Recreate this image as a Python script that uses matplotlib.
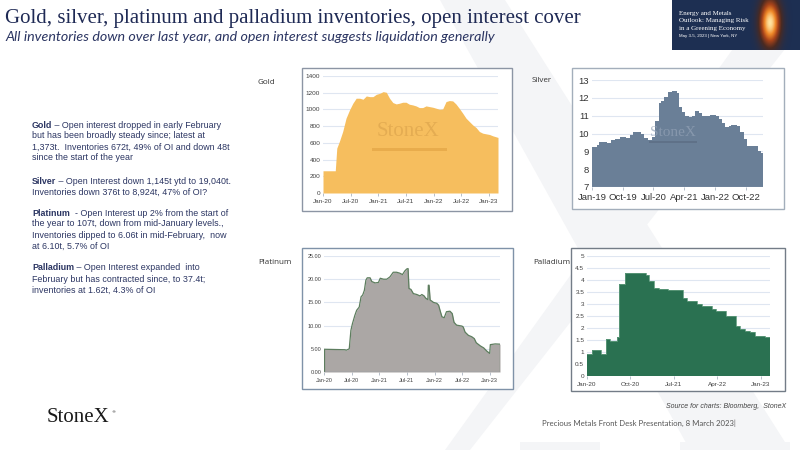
import matplotlib
matplotlib.use("Agg")
import matplotlib.pyplot as plt
import matplotlib.dates as mdates
from matplotlib.colors import LinearSegmentedColormap
from matplotlib.patches import Rectangle, Polygon
import numpy as np
import pandas as pd

W, H = 800, 450

# ── data ───────────────────────────────────────────────────────────────────
gold_dates = ["2020-01-01", "2020-03-22", "2020-04-01", "2020-04-18", "2020-05-10", "2020-06-01",
              "2020-06-24", "2020-07-16", "2020-08-07", "2020-08-30", "2020-09-21", "2020-10-13",
              "2020-11-04", "2020-11-26", "2020-12-18", "2021-01-10", "2021-02-01", "2021-02-22",
              "2021-03-15", "2021-04-06", "2021-04-28", "2021-05-19", "2021-06-10", "2021-07-02",
              "2021-07-24", "2021-08-15", "2021-09-06", "2021-09-28", "2021-10-20", "2021-11-11",
              "2021-12-03", "2021-12-26", "2022-01-17", "2022-02-08", "2022-03-01", "2022-03-23",
              "2022-04-14", "2022-05-06", "2022-05-27", "2022-06-18", "2022-07-11", "2022-08-02",
              "2022-08-24", "2022-09-15", "2022-10-07", "2022-10-29", "2022-11-20", "2022-12-12",
              "2023-01-04", "2023-01-26", "2023-03-01"]
gold_inv = [266, 266, 537, 617, 736, 895, 994, 1074, 1134, 1134, 1122, 1161, 1153, 1153, 1181,
            1193, 1213, 1205, 1134, 1082, 1066, 1074, 1086, 1086, 1062, 1054, 1042, 1022, 1022,
            1042, 1034, 1026, 1014, 1002, 1006, 1094, 1106, 1102, 1066, 1014, 955, 895, 855, 815,
            784, 736, 716, 708, 700, 684, 665]

silver_dates = ["2019-01-01", "2019-02-17", "2019-03-05", "2019-04-10", "2019-05-15", "2019-06-23",
                "2019-07-23", "2019-09-06", "2019-11-01", "2019-12-05", "2020-01-04", "2020-02-18",
                "2020-03-10", "2020-04-10", "2020-05-10", "2020-06-15", "2020-07-15", "2020-08-15",
                "2020-09-06", "2020-10-04", "2020-11-04", "2020-12-13", "2021-01-27", "2021-02-15",
                "2021-03-10", "2021-04-10", "2021-05-10", "2021-06-10", "2021-07-06", "2021-08-06",
                "2021-09-06", "2021-11-18", "2022-01-10", "2022-02-03", "2022-03-04", "2022-04-01",
                "2022-05-01", "2022-05-22", "2022-07-15", "2022-08-06", "2022-09-12", "2022-10-12",
                "2022-11-18", "2022-12-24", "2023-01-15", "2023-02-10", "2023-03-03"]
silver_inv = [9.24, 9.33, 9.50, 9.54, 9.46, 9.61, 9.69, 9.80, 9.74, 9.93, 10.06, 10.11, 9.98,
              9.74, 9.65, 9.83, 10.71, 11.70, 11.85, 12.07, 12.35, 12.39, 12.26, 11.51, 11.23,
              10.99, 10.91, 10.99, 11.27, 11.17, 10.99, 11.05, 10.99, 10.80, 10.58, 10.39, 10.43,
              10.49, 10.43, 10.11, 9.69, 9.31, 9.28, 9.31, 9.00, 8.92, 8.92]

plat_dates = ["2020-01-01", "2020-03-12", "2020-05-18", "2020-05-28", "2020-06-16", "2020-06-27",
              "2020-07-07", "2020-07-23", "2020-08-04", "2020-08-21", "2020-09-02", "2020-09-13",
              "2020-09-24", "2020-10-04", "2020-10-13", "2020-11-01", "2020-11-12", "2020-12-04",
              "2020-12-26", "2021-01-07", "2021-01-29", "2021-02-19", "2021-03-12", "2021-04-03",
              "2021-04-25", "2021-05-16", "2021-06-03", "2021-06-19", "2021-07-01", "2021-07-10",
              "2021-07-16", "2021-07-29", "2021-08-14", "2021-09-06", "2021-09-27", "2021-10-09",
              "2021-10-24", "2021-11-04", "2021-11-18", "2021-11-21", "2021-11-26", "2021-12-03",
              "2021-12-13", "2021-12-25", "2022-01-16", "2022-01-28", "2022-02-08", "2022-02-19",
              "2022-03-06", "2022-03-21", "2022-04-13", "2022-04-28", "2022-05-10", "2022-05-27",
              "2022-07-01", "2022-07-10", "2022-07-22", "2022-08-13", "2022-09-04", "2022-09-21",
              "2022-10-04", "2022-11-01", "2022-11-22", "2022-12-13", "2023-01-01", "2023-01-05",
              "2023-02-06", "2023-03-10"]
plat_inv = [4.9, 4.85, 4.8, 4.7, 5.0, 9.0, 10.4, 12.2, 13.3, 14.0, 16.2, 16.6, 17.6, 19.8, 20.3,
            20.3, 19.5, 19.2, 19.3, 20.2, 20.0, 20.0, 20.5, 21.5, 21.5, 21.3, 21.0, 21.8, 22.2,
            22.3, 18.0, 17.8, 16.9, 16.7, 16.4, 16.7, 16.4, 15.9, 15.6, 18.7, 18.7, 15.5, 15.3,
            15.0, 14.8, 14.4, 13.1, 11.9, 11.7, 13.0, 13.1, 12.6, 10.7, 10.1, 9.9, 9.7, 8.6, 7.9,
            7.6, 7.2, 6.3, 5.6, 5.2, 4.5, 4.0, 5.9, 6.05, 6.0]

pall_dates = ["2020-01-01", "2020-02-01", "2020-04-01", "2020-04-27", "2020-05-26", "2020-07-08",
              "2020-07-24", "2020-08-28", "2021-01-07", "2021-01-28", "2021-02-28", "2021-04-01",
              "2021-05-25", "2021-08-28", "2021-09-25", "2021-11-28", "2021-12-24", "2022-03-01",
              "2022-03-27", "2022-04-28", "2022-05-25", "2022-06-26", "2022-07-28", "2022-08-22",
              "2022-09-23", "2022-10-24", "2022-11-25", "2023-01-28", "2023-03-01"]
pall_inv = [0.90, 1.09, 0.92, 1.53, 1.45, 1.63, 3.84, 4.28, 4.21, 3.97, 3.68, 3.62, 3.57, 3.23,
            3.13, 2.98, 2.92, 2.80, 2.72, 2.69, 2.52, 2.49, 2.09, 1.95, 1.87, 1.82, 1.66, 1.62, 1.62]

gold_ticks = ["2020-01-01", "2020-07-01", "2021-01-01", "2021-07-01", "2022-01-01", "2022-07-01", "2023-01-01"]
silver_ticks = ["2019-01-01", "2019-10-01", "2020-07-01", "2021-04-01", "2022-01-01", "2022-10-01"]
pall_ticks = ["2020-01-01", "2020-10-01", "2021-07-01", "2022-04-01", "2023-01-01"]

notes = [
    ("Gold", " \u2013 Open interest dropped in early February",
     ["but has been broadly steady since; latest at",
      "1,373t.  Inventories 672t, 49% of OI and down 48t",
      "since the start of the year"], 125),
    ("Silver", " \u2013 Open Interest down 1,145t ytd to 19,040t.",
     ["Inventories down 376t to 8,924t, 47% of OI?"], 181),
    ("Platinum", "  - Open Interest up 2% from the start of",
     ["the year to 107t, down from mid-January levels.,",
      "Inventories dipped to 6.06t in mid-February,  now",
      "at 6.10t, 5.7% of OI"], 213),
    ("Palladium", " \u2013 Open Interest expanded  into",
     ["February but has contracted since, to 37.4t;",
      "inventories at 1.62t, 4.3% of OI"], 268),
]

NAVY = "#1f2a55"
TEXT = "#2b3562"
GRID = "#dfe6f1"


def fx(px):
    return px / W


def fy(py):
    return 1 - py / H


def panel_axes(left, top, right, bottom):
    return fig.add_axes([fx(left), fy(bottom), fx(right - left), (bottom - top) / H])


def frame(left, top, right, bottom, color):
    fig.patches.append(Rectangle((fx(left), fy(bottom)), fx(right - left), (bottom - top) / H,
                                 transform=fig.transFigure, fc="white", ec=color, lw=1.0,
                                 zorder=-1))


def style(ax, yticks, ylabels, ylim, xticks, xlim, fs, tc="#404040"):
    ax.set_facecolor("none")
    for s in ax.spines.values():
        s.set_visible(False)
    ax.set_ylim(*ylim)
    ax.set_yticks(yticks)
    ax.set_yticklabels(ylabels)
    ax.set_xlim(pd.Timestamp(xlim[0]), pd.Timestamp(xlim[1]))
    ax.set_xticks(pd.to_datetime(xticks))
    ax.xaxis.set_major_formatter(mdates.DateFormatter("%b-%y"))
    ax.grid(axis="y", color=GRID, lw=0.8)
    ax.set_axisbelow(True)
    ax.tick_params(axis="y", length=0, labelsize=fs, colors=tc, pad=2)
    ax.tick_params(axis="x", length=2, width=0.5, color="#9aa5b5", labelsize=fs, colors=tc, pad=2)
    for lab in ax.get_xticklabels() + ax.get_yticklabels():
        lab.set_fontfamily("Liberation Sans")


fig = plt.figure(figsize=(8, 4.5), dpi=100)
fig.patch.set_facecolor("white")

# faint background "X"
bg = "#f4f5f7"
for pts in ([(440, 0), (505, 0), (790, 450), (690, 450)],
            [(768, 0), (800, 0), (800, 30), (470, 450), (445, 450)],
            [(520, 442), (600, 442), (600, 450), (520, 450)],
            [(680, 442), (790, 442), (790, 450), (680, 450)]):
    fig.patches.append(Polygon([(fx(a), fy(b)) for a, b in pts], closed=True,
                               transform=fig.transFigure, fc=bg, ec="none", zorder=-2))

# title block
fig.text(fx(5), fy(18), "Gold, silver, platinum and palladium inventories, open interest cover",
         family="Liberation Serif", fontsize=15, color=NAVY, va="center")
fig.text(fx(5), fy(37), "All inventories down over last year, and open interest suggests liquidation generally",
         family="Lato", style="italic", fontsize=10.3, color=TEXT, va="center")

# conference badge
fig.patches.append(Rectangle((fx(672), fy(50)), fx(128), 50 / H, transform=fig.transFigure,
                             fc="#1d2f52", ec="none", zorder=2))
glow = fig.add_axes([fx(750), fy(50), fx(50), 50 / H])
yy, xx = np.mgrid[0:1:50j, 0:1:50j]
fire = LinearSegmentedColormap.from_list("fire", ["#1d2f52", "#4a2a22", "#a8441a", "#f08a2a", "#ffe3a0"])
glow.imshow(np.exp(-((xx - 0.4) ** 2 / 0.04 + (yy - 0.45) ** 2 / 0.2)), cmap=fire,
            aspect="auto", vmin=0, vmax=1.0)
glow.axis("off")
glow.set_zorder(3)
for i, line in enumerate(["Energy and Metals", "Outlook: Managing Risk", "in a Greening Economy"]):
    fig.text(fx(679), fy(13 + 7.6 * i), line, family="Liberation Serif", fontsize=5.0,
             color="white", va="center", zorder=4)
fig.text(fx(679), fy(36), "May 3-5, 2023 | New York, NY", family="Liberation Sans",
         fontsize=3.2, color="white", va="center", zorder=4)

# commentary block
renderer = fig.canvas.get_renderer()
for head, first, rest, ytop in notes:
    t = fig.text(fx(32), fy(ytop), head, family="Liberation Sans", weight="bold",
                 fontsize=6.4, color=TEXT, va="center")
    bb = t.get_window_extent(renderer)
    fig.text(bb.x1 / W, fy(ytop), first, family="Liberation Sans", fontsize=6.4,
             color=TEXT, va="center")
    for k, line in enumerate(rest):
        fig.text(fx(32), fy(ytop + 11 * (k + 1)), line, family="Liberation Sans",
                 fontsize=6.4, color=TEXT, va="center")

# panel labels
for label, x, y in (("Gold", 258, 82), ("Silver", 532, 81), ("Platinum", 258, 263), ("Palladium", 533, 263)):
    fig.text(fx(x), fy(y), label, family="Open Sans", fontsize=5.8, color="#333333", va="center")

# ── Gold ──
frame(302, 68, 512, 211, "#8c95a4")
ax = panel_axes(323, 76, 498, 193)
gd = pd.to_datetime(gold_dates)
ax.fill_between(gd, gold_inv, 0, color="#f6be5e", lw=0)
style(ax, range(0, 1401, 200), [str(v) for v in range(0, 1401, 200)], (0, 1400),
      gold_ticks, ("2020-01-01", "2023-03-01"), 4.6)
fig.text(fx(408), fy(132), "StoneX", family="Liberation Serif", fontsize=15, color="#d9a14a",
         alpha=0.6, ha="center", va="center")
fig.patches.append(Rectangle((fx(372), fy(151)), fx(75), 3 / H, transform=fig.transFigure,
                             fc="#e0a040", ec="none", alpha=0.6))

# ── Silver ──
frame(572, 68, 784, 209, "#a3aebb")
ax = panel_axes(592, 80, 763, 187)
sd = pd.to_datetime(silver_dates)
ax.fill_between(sd, silver_inv, 7, step="post", color="#6a7f97", lw=0)
style(ax, range(7, 14), [str(v) for v in range(7, 14)], (7, 13),
      silver_ticks, ("2019-01-01", "2023-03-03"), 6.8, tc="#333333")
ax.axhline(7, color="#c8d2e0", lw=0.8)
fig.text(fx(673), fy(132), "StoneX", family="Liberation Serif", fontsize=11, color="#93a2b6",
         alpha=0.7, ha="center", va="center")
fig.patches.append(Rectangle((fx(649), fy(142.5)), fx(48), 1.2 / H, transform=fig.transFigure,
                             fc="#55657a", ec="none", alpha=0.5))

# ── Platinum ──
frame(302, 248, 513, 389, "#7f92a8")
ax = panel_axes(324, 256, 500, 372)
pd_ = pd.to_datetime(plat_dates)
ax.fill_between(pd_, plat_inv, 0, color="#aba7a5", lw=0)
ax.plot(pd_, plat_inv, color="#5d7d5e", lw=0.9)
ax.vlines([pd_[0], pd_[-1]], 0, [plat_inv[0], plat_inv[-1]], color="#5d7d5e", lw=0.9)
style(ax, range(0, 26, 5), [f"{v:.2f}" for v in range(0, 26, 5)], (0, 25),
      gold_ticks, ("2020-01-01", "2023-03-10"), 4.0)
ax.axhline(0, color="#8d9aa8", lw=1.0)

# ── Palladium ──
frame(571, 248, 785, 391, "#737c87")
ax = panel_axes(587, 256, 770, 376)
ld = pd.to_datetime(pall_dates)
ax.fill_between(ld, pall_inv, 0, step="post", color="#2a7151", lw=0)
ax.step(ld, pall_inv, where="post", color="#5f9a7c", lw=0.6)
ylab = ["0", "0.5", "1", "1.5", "2", "2.5", "3", "3.5", "4", "4.5", "5"]
style(ax, [float(v) for v in ylab], ylab, (0, 5), pall_ticks, ("2020-01-01", "2023-03-01"), 4.6)

# footer
logo = fig.text(fx(47), fy(418), "StoneX", family="Liberation Serif", fontsize=15, color="#1a1a1a",
                va="center")
lb = logo.get_window_extent(renderer)
fig.text(lb.x1 / W + 0.002, fy(412), "\u00ae", family="DejaVu Sans", fontsize=3, color="#1a1a1a",
         va="center")
fig.text(fx(786), fy(407), "Source for charts: Bloomberg,  StoneX", family="Liberation Sans",
         style="italic", fontsize=5.0, color="#444444", ha="right", va="center")
fig.text(fx(542), fy(423), "Precious Metals Front Desk Presentation, 8 March 2023|", family="Lato",
         fontsize=5.6, color="#555555", va="center")

fig.savefig("out.png", dpi=100)
